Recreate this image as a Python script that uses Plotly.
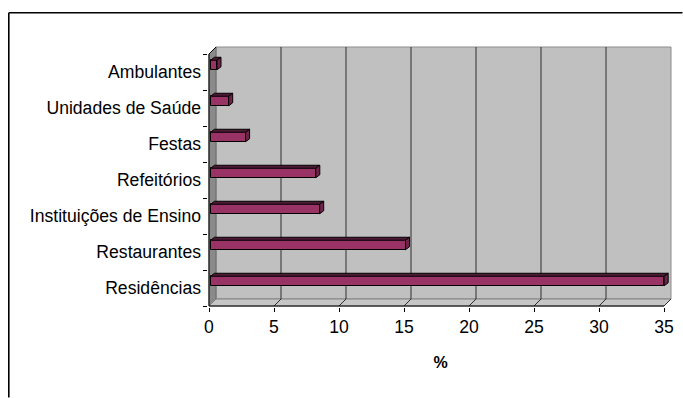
import plotly.graph_objects as go

# ---- data ----
categories = ["Residências", "Restaurantes", "Instituições de Ensino", "Refeitórios",
              "Festas", "Unidades de Saúde", "Ambulantes"]
values = [34.9, 15.0, 8.4, 8.1, 2.7, 1.4, 0.5]
x_ticks = [0, 5, 10, 15, 20, 25, 30, 35]
x_title = "%"

# ---- geometry (pixels -> data units) ----
W, H = 683, 398
PX = 13.0          # px per x unit
BAND = 36.0        # px per category band
X0_PX, Y0_PX = 209, 306          # front-axis origin in px
PL, PR, PT, PB = 208, 673, 45, 307   # plot area edges in px
xr = [(PL - X0_PX) / PX, (PR - X0_PX) / PX]
yr = [-0.5 - (PB - Y0_PX) / BAND, -0.5 + (Y0_PX - PT) / BAND]
dx, dy = 7 / PX, 7 / BAND            # wall depth
bdx, bdy = 4 / PX, 3 / BAND          # bar depth
bx = 1.5 / PX                        # bar shift right
boff = 7 / BAND                      # bar shift up
bh = 4.75 / BAND                     # half bar height
n = len(categories)
xmax = x_ticks[-1]
ybot, ytop = -0.5, n - 0.5

BAR = "#993366"
TOP = "#4F1A35"
SIDE = "#6E2449"

fig = go.Figure()

shapes = []
def poly(pts, fill, line, w=1):
    d = "M " + " L ".join(f"{x},{y}" for x, y in pts) + " Z"
    shapes.append(dict(type="path", path=d, xref="x", yref="y", fillcolor=fill,
                       line=dict(color=line, width=w), layer="below"))
def seg(x0, y0, x1, y1, color, w=1):
    shapes.append(dict(type="line", x0=x0, y0=y0, x1=x1, y1=y1, xref="x", yref="y",
                       line=dict(color=color, width=w), layer="below"))

# back wall
poly([(dx, ybot + dy), (xmax + dx, ybot + dy), (xmax + dx, ytop + dy), (dx, ytop + dy)],
     "#C0C0C0", "#8C8C8C")
# left wall
poly([(0, ybot), (0, ytop), (dx, ytop + dy), (dx, ybot + dy)], "#8A8A8A", "#6A6A6A")
# floor
poly([(0, ybot), (xmax, ybot), (xmax + dx, ybot + dy), (dx, ybot + dy)], "#C6C6C6", "#808080")
# gridlines on back wall and floor
for t in x_ticks[1:]:
    if t < xmax:
        seg(t + dx, ybot + dy, t + dx, ytop + dy, "#2E2E2E")
    seg(t, ybot, t + dx, ybot + dy, "#2E2E2E")

# front faces of bars
fig.add_trace(go.Bar(
    x=values, y=[i + boff for i in range(n)], base=bx, orientation="h", width=2 * bh,
    marker=dict(color=BAR, line=dict(color="black", width=1)),
    hoverinfo="skip", showlegend=False))

# top and side faces
tx, ty, sx, sy = [], [], [], []
for i, v in enumerate(values):
    yb, yt = i + boff - bh, i + boff + bh
    xe = bx + v
    tx += [bx, xe, xe + bdx, bx + bdx, bx, None]
    ty += [yt, yt, yt + bdy, yt + bdy, yt, None]
    sx += [xe, xe, xe + bdx, xe + bdx, xe, None]
    sy += [yb, yt, yt + bdy, yb + bdy, yb, None]
fig.add_trace(go.Scatter(x=tx, y=ty, fill="toself", fillcolor=TOP, mode="lines",
                         line=dict(color="black", width=1), hoverinfo="skip", showlegend=False))
fig.add_trace(go.Scatter(x=sx, y=sy, fill="toself", fillcolor=SIDE, mode="lines",
                         line=dict(color="black", width=1), hoverinfo="skip", showlegend=False))

# front axis lines
fig.add_trace(go.Scatter(x=[xmax, 0, 0, dx], y=[ybot, ybot, ytop, ytop + dy], mode="lines",
                         line=dict(color="black", width=1), yaxis="y2",
                         hoverinfo="skip", showlegend=False))

# chart-area border: only left and top edges are inside the picture
pw, ph = PR - PL, PB - PT
def px2paper(px, py):
    return (px - PL) / pw, (PB - py) / ph
lx, ty0 = px2paper(8.8, 12.8)
rx, by1 = px2paper(W - 0.5, H - 0.5)
for (a, b, c, d) in [(lx, ty0, rx, ty0), (lx, ty0, lx, by1)]:
    shapes.append(dict(type="line", xref="paper", yref="paper", x0=a, y0=b, x1=c, y1=d,
                       line=dict(color="black", width=1.6), layer="above"))

FONT = "Arial, Liberation Sans, sans-serif"
fig.update_layout(
    width=W, height=H,
    margin=dict(l=PL, r=W - PR, t=PT, b=H - PB, autoexpand=False),
    paper_bgcolor="white", plot_bgcolor="white",
    font=dict(family=FONT, color="black", size=17.6),
    shapes=shapes,
    bargap=0,
    xaxis=dict(range=xr, tickvals=x_ticks, ticks="outside", ticklen=4, tickcolor="black",
               showgrid=False, zeroline=False, showline=False,
               tickfont=dict(size=17.6),
               title=dict(text="<b>" + x_title + "</b>", font=dict(size=16), standoff=20)),
    yaxis=dict(range=yr, tickvals=list(range(n)), ticktext=categories, ticks="",
               showgrid=False, zeroline=False, showline=False, tickfont=dict(size=17.6),
               ticklabelstandoff=6),
    yaxis2=dict(range=yr, overlaying="y", anchor="x", side="left",
                tickvals=[k - 0.5 for k in range(n + 1)], ticks="outside", ticklen=4,
                tickcolor="black", showticklabels=False, showgrid=False, zeroline=False,
                showline=False),
)

fig.write_html("out.html", config={"displayModeBar": False})
